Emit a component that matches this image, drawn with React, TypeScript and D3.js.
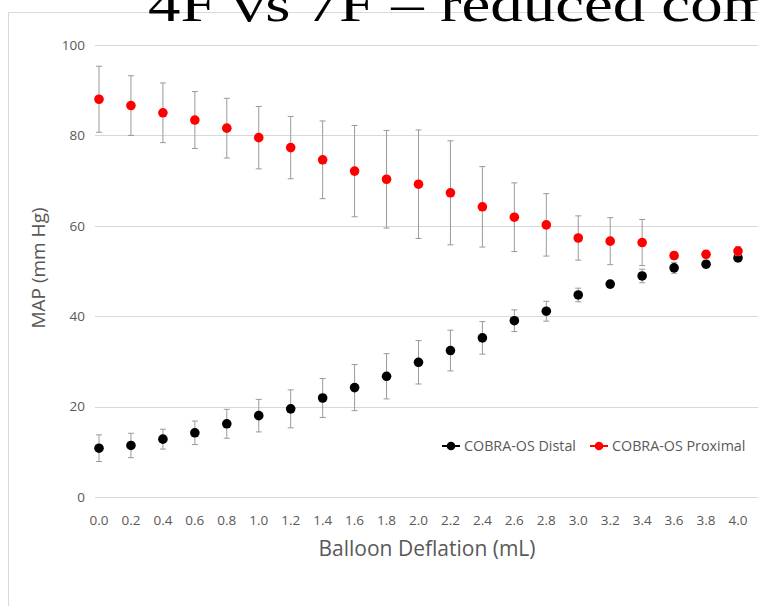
import { useEffect } from "react";
import { scaleLinear, range } from "d3";

// Balloon deflation steps (mL)
const deflation = [0.0, 0.2, 0.4, 0.6, 0.8, 1.0, 1.2, 1.4, 1.6, 1.8, 2.0, 2.2, 2.4, 2.6, 2.8, 3.0, 3.2, 3.4, 3.6, 3.8, 4.0];

// COBRA-OS Distal MAP (mean, sd)
const distalMean = [10.8, 11.4, 12.8, 14.2, 16.2, 18.0, 19.5, 21.9, 24.2, 26.7, 29.8, 32.4, 35.2, 39.0, 41.1, 44.7, 47.1, 48.9, 50.7, 51.5, 52.9];
const distalSd = [2.95, 2.7, 2.2, 2.6, 3.2, 3.6, 4.2, 4.3, 5.1, 5.0, 4.8, 4.5, 3.6, 2.4, 2.2, 1.5, 0.8, 1.5, 1.2, 0.8, 0.8];

// COBRA-OS Proximal MAP (mean, sd)
const proximalMean = [88.0, 86.6, 85.0, 83.4, 81.6, 79.5, 77.3, 74.6, 72.1, 70.3, 69.2, 67.3, 64.2, 61.9, 60.2, 57.3, 56.6, 56.3, 53.4, 53.7, 54.4];
const proximalSd = [7.3, 6.6, 6.6, 6.3, 6.6, 6.9, 6.9, 8.6, 10.1, 10.8, 12.0, 11.5, 8.9, 7.6, 6.9, 4.9, 5.2, 5.1, 0.8, 0.8, 1.0];

const yTicks = [0, 20, 40, 60, 80, 100];

const W = 758, H = 606;
const font = "'Open Sans', 'Liberation Sans', sans-serif";
const textColor = "#595959";

const App = () => {
  useEffect(() => {
    document.body.style.margin = "0";
  }, []);

  const x = scaleLinear().domain([0, 4]).range([99, 738]);
  const y = scaleLinear().domain([0, 100]).range([497, 45]);

  const series = [
    { name: "COBRA-OS Distal", mean: distalMean, sd: distalSd, color: "#000000" },
    { name: "COBRA-OS Proximal", mean: proximalMean, sd: proximalSd, color: "#ff0000" },
  ];

  const legend = [
    { x: 442, textX: 464 },
    { x: 590, textX: 612 },
  ];

  return (
    <svg width={W} height={H} style={{ display: "block", background: "#fff" }}>
      {/* chart frame */}
      <rect x={8.5} y={12.5} width={W + 20} height={H + 20} fill="#fff" stroke="#d9d9d9" />

      {/* title, cut off at the top and right */}
      <text x={148} y={21} fontFamily="'Liberation Serif', 'DejaVu Serif', serif" fontSize={50}
        textLength={625} lengthAdjust="spacingAndGlyphs" fill="#000">
        4F vs 7F – reduced com
      </text>

      {/* gridlines + y ticks */}
      {yTicks.map(t => (
        <g key={t}>
          <line x1={95} x2={W} y1={Math.round(y(t)) + 0.5} y2={Math.round(y(t)) + 0.5} stroke="#d9d9d9" />
          <text x={85} y={y(t)} dy="0.35em" textAnchor="end" fontFamily={font} fontSize={13.5} fill={textColor}>{t}</text>
        </g>
      ))}

      {/* x tick labels */}
      {deflation.map(d => (
        <text key={d} x={x(d)} y={525} textAnchor="middle" fontFamily={font} fontSize={13.5} fill={textColor}>
          {d.toFixed(1)}
        </text>
      ))}

      {/* axis titles */}
      <text x={427} y={556} textAnchor="middle" fontFamily={font} fontSize={21} fill={textColor}>Balloon Deflation (mL)</text>
      <text transform={`translate(45,268) rotate(-90)`} textAnchor="middle" fontFamily={font} fontSize={19} fill={textColor}>MAP (mm Hg)</text>

      {/* series: error bars then markers */}
      {series.map(s => (
        <g key={s.name}>
          {range(deflation.length).map(i => {
            const cx = x(deflation[i]);
            const top = y(s.mean[i] + s.sd[i]);
            const bot = y(s.mean[i] - s.sd[i]);
            return (
              <g key={i} stroke="#9a9a9a" strokeWidth={1}>
                <line x1={cx} x2={cx} y1={top} y2={bot} />
                <line x1={cx - 3} x2={cx + 3} y1={top} y2={top} />
                <line x1={cx - 3} x2={cx + 3} y1={bot} y2={bot} />
              </g>
            );
          })}
          {range(deflation.length).map(i => (
            <circle key={i} cx={x(deflation[i])} cy={y(s.mean[i])} r={4.8} fill={s.color} />
          ))}
        </g>
      ))}

      {/* legend */}
      {series.map((s, i) => (
        <g key={s.name}>
          <line x1={legend[i].x} x2={legend[i].x + 18} y1={446} y2={446} stroke={s.color} strokeWidth={2} />
          <circle cx={legend[i].x + 9} cy={446} r={4.3} fill={s.color} />
          <text x={legend[i].textX} y={446} dy="0.35em" fontFamily={font} fontSize={14.3} fill={textColor}>{s.name}</text>
        </g>
      ))}
    </svg>
  );
};

export default App;
